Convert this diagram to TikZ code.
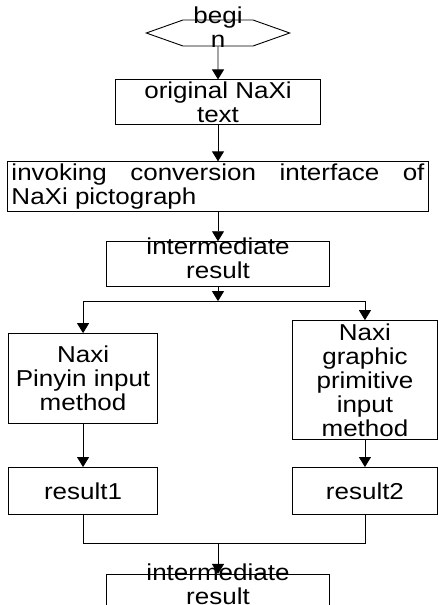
\documentclass[tikz,border=0pt]{standalone}
\usepackage{fontspec}
\setmainfont{Liberation Sans}[FakeStretch=1.13]
\usetikzlibrary{arrows.meta, positioning, shapes.symbols, calc}
\hyphenpenalty=10000
\newcommand{\spill}[2]{\smash{\parbox[c]{#1}{\centering #2}}}

\begin{document}
\begin{tikzpicture}[x=1pt, y=1pt, line width=0.9pt,
  box/.style={draw, inner sep=0pt, align=center, font=\fontsize{23}{24}\selectfont},
  arr/.style={-{Triangle[width=12pt,length=10pt]}}]

  \useasboundingbox (0,0) rectangle (438,-605);

  \node[box, signal, signal to=west and east, signal pointer angle=39,
        minimum width=74pt, minimum height=26pt] (start) at (218,-33) {\spill{70pt}{begi\\n}};
  \node[box, below=33pt of start, minimum width=205pt, minimum height=45pt] (orig) {original NaXi\\text};
  \node[box, below=36pt of orig, minimum width=421pt, minimum height=50pt,
        text width=413pt, align=justify] (invoke) {invoking conversion interface of NaXi pictograph};
  \node[box, below=29pt of invoke, minimum width=223pt, minimum height=45pt] (inter) {\spill{215pt}{intermediate\\result}};
  \coordinate[below=14pt of inter] (split);

  \node[box, below left=32pt and 60pt of split, minimum width=149pt, minimum height=90pt] (pinyin) {Naxi\\Pinyin input\\method};
  \node[box, below right=19pt and 74pt of split, minimum width=145pt, minimum height=119pt] (graphic) {Naxi\\graphic\\primitive\\input\\method};
  \node[box, below=43pt of pinyin, minimum width=149pt, minimum height=47pt] (res1) {result1};
  \node[box, below=27pt of graphic, minimum width=145pt, minimum height=47pt] (res2) {result2};

  \coordinate (merge) at ($(split |- res1.south)+(0,-28)$);
  \node[box, below=31pt of merge, minimum width=223pt, minimum height=33pt] (final) {\spill{215pt}{intermediate\\result}};

  \draw[arr] (start) -- (orig);
  \draw[arr] (orig) -- (invoke);
  \draw[arr] (invoke) -- (inter);
  \draw[arr] (inter) -- (split);
  \draw[arr] (split) -| (pinyin);
  \draw[arr] (split) -| (graphic);
  \draw[arr] (pinyin) -- (res1);
  \draw[arr] (graphic) -- (res2);
  \draw (res1) |- (merge) -| (res2);
  \draw[arr] (merge) -- (final);
\end{tikzpicture}
\end{document}
